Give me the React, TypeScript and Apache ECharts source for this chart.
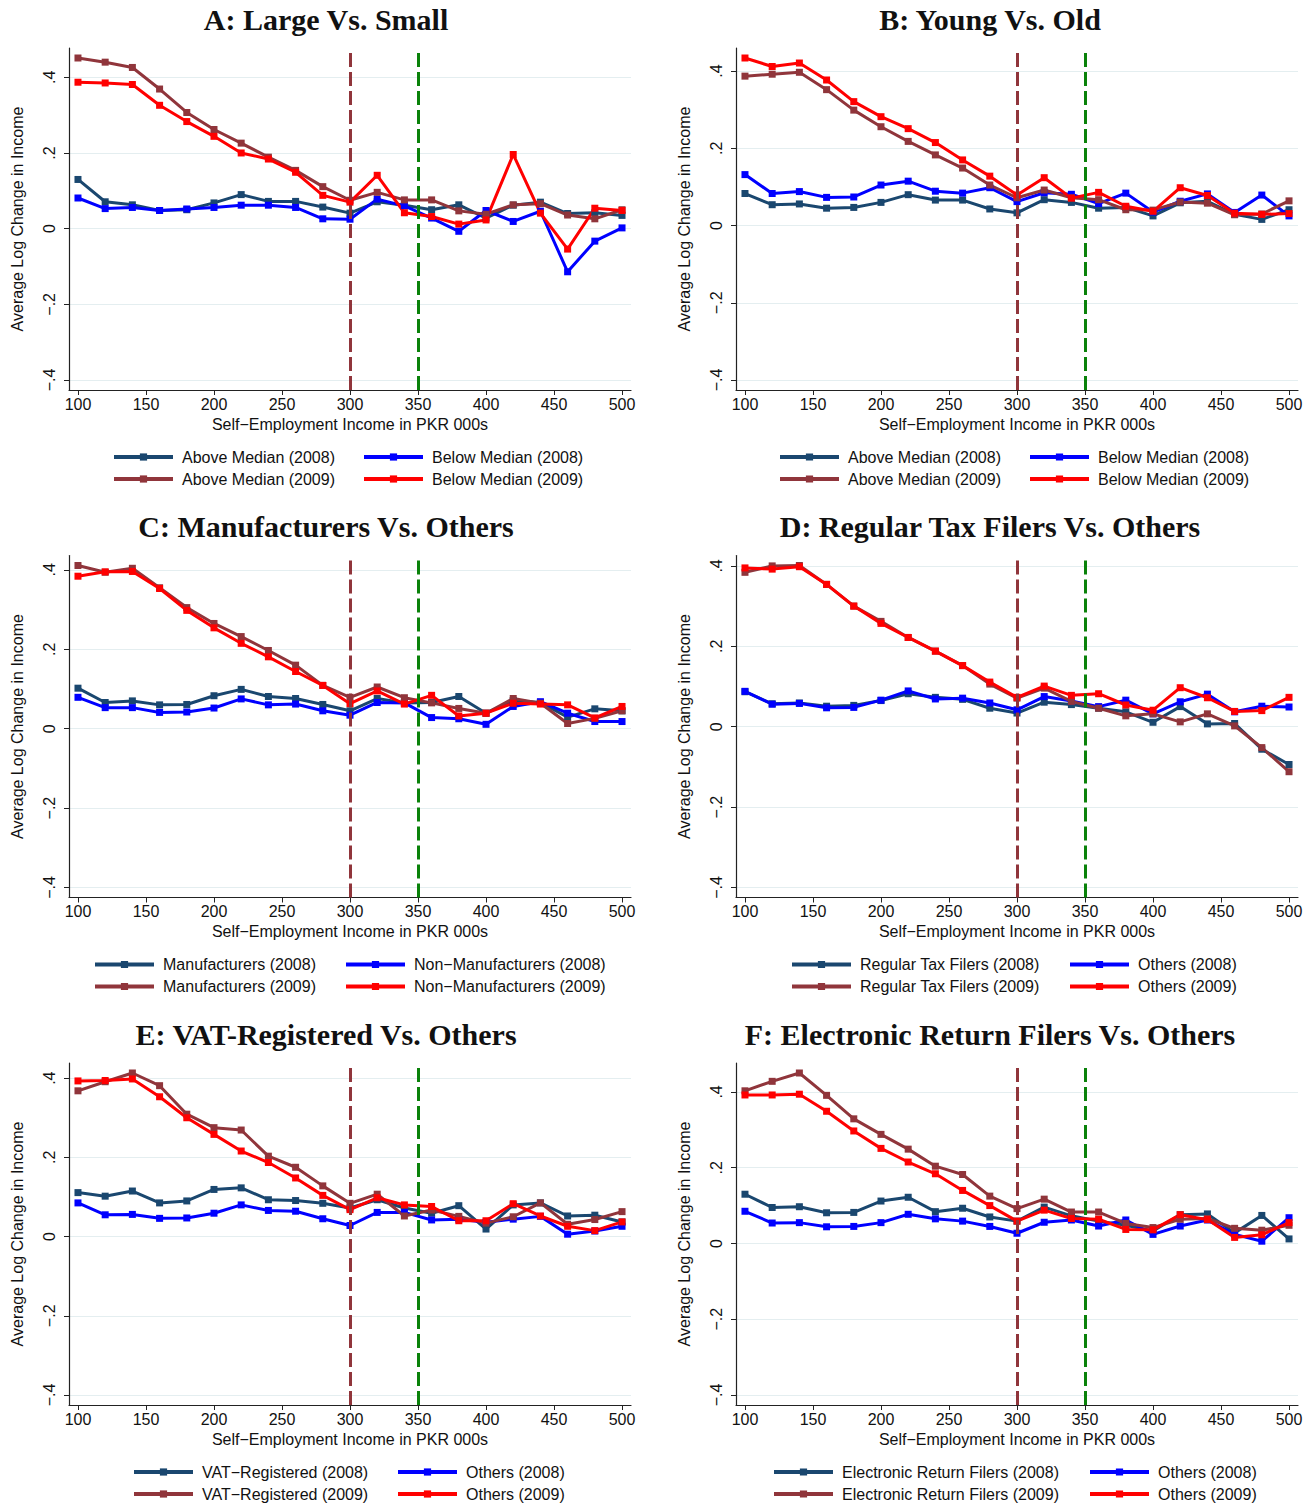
import React, { useEffect, useRef } from "react";
import * as echarts from "echarts";

// Income bins (PKR 000s) shared by every panel
const incomeBins = [100, 120, 140, 160, 180, 200, 220, 240, 260, 280, 300, 320, 340, 360, 380, 400, 420, 440, 460, 480, 500];
const xTickValues = [100, 150, 200, 250, 300, 350, 400, 450, 500];
const yTickValues = [-0.4, -0.2, 0, 0.2, 0.4];
const thresholdLow = 300;
const thresholdHigh = 350;

// A: Large vs. Small
const aAbove2008 = [0.130, 0.071, 0.063, 0.048, 0.050, 0.068, 0.090, 0.072, 0.072, 0.057, 0.041, 0.071, 0.062, 0.050, 0.063, 0.028, 0.062, 0.070, 0.040, 0.042, 0.035];
const aBelow2008 = [0.081, 0.053, 0.056, 0.048, 0.052, 0.056, 0.062, 0.062, 0.056, 0.026, 0.025, 0.078, 0.060, 0.028, -0.007, 0.048, 0.019, 0.046, -0.114, -0.033, 0.002];
const aAbove2009 = [0.451, 0.440, 0.426, 0.369, 0.307, 0.262, 0.226, 0.189, 0.154, 0.111, 0.075, 0.096, 0.076, 0.076, 0.047, 0.038, 0.063, 0.066, 0.036, 0.026, 0.050];
const aBelow2009 = [0.387, 0.385, 0.381, 0.326, 0.283, 0.244, 0.200, 0.184, 0.149, 0.088, 0.070, 0.141, 0.042, 0.032, 0.012, 0.023, 0.196, 0.041, -0.054, 0.054, 0.048];

// B: Young vs. Old
const bAbove2008 = [0.083, 0.054, 0.056, 0.045, 0.047, 0.060, 0.080, 0.066, 0.066, 0.043, 0.033, 0.067, 0.060, 0.045, 0.047, 0.025, 0.059, 0.063, 0.029, 0.016, 0.041];
const bBelow2008 = [0.132, 0.083, 0.088, 0.073, 0.074, 0.105, 0.115, 0.089, 0.084, 0.098, 0.062, 0.085, 0.081, 0.057, 0.084, 0.035, 0.063, 0.082, 0.034, 0.079, 0.025];
const bAbove2009 = [0.387, 0.392, 0.397, 0.352, 0.299, 0.256, 0.218, 0.183, 0.149, 0.105, 0.072, 0.092, 0.072, 0.067, 0.041, 0.040, 0.061, 0.058, 0.028, 0.030, 0.064];
const bBelow2009 = [0.434, 0.412, 0.421, 0.377, 0.321, 0.282, 0.251, 0.215, 0.170, 0.128, 0.079, 0.124, 0.071, 0.086, 0.050, 0.037, 0.098, 0.078, 0.032, 0.029, 0.031];

// C: Manufacturers vs. Others
const cManuf2008 = [0.102, 0.066, 0.070, 0.060, 0.061, 0.083, 0.099, 0.081, 0.076, 0.061, 0.045, 0.076, 0.065, 0.066, 0.081, 0.039, 0.071, 0.066, 0.029, 0.050, 0.045];
const cNonManuf2008 = [0.079, 0.053, 0.053, 0.041, 0.042, 0.052, 0.075, 0.060, 0.062, 0.045, 0.034, 0.066, 0.065, 0.028, 0.025, 0.011, 0.056, 0.068, 0.039, 0.018, 0.018];
const cManuf2009 = [0.411, 0.394, 0.404, 0.355, 0.305, 0.265, 0.232, 0.197, 0.160, 0.109, 0.079, 0.105, 0.078, 0.065, 0.051, 0.039, 0.076, 0.064, 0.013, 0.026, 0.045];
const cNonManuf2009 = [0.384, 0.395, 0.396, 0.353, 0.298, 0.254, 0.215, 0.181, 0.144, 0.109, 0.063, 0.095, 0.062, 0.084, 0.032, 0.039, 0.064, 0.062, 0.060, 0.027, 0.056];

// D: Regular Tax Filers vs. Others
const dRegular2008 = [0.087, 0.057, 0.059, 0.051, 0.053, 0.065, 0.082, 0.073, 0.068, 0.046, 0.034, 0.061, 0.055, 0.046, 0.037, 0.011, 0.050, 0.007, 0.008, -0.056, -0.094];
const dOthers2008 = [0.088, 0.056, 0.058, 0.047, 0.048, 0.066, 0.089, 0.069, 0.071, 0.059, 0.042, 0.075, 0.064, 0.050, 0.066, 0.032, 0.062, 0.081, 0.037, 0.051, 0.049];
const dRegular2009 = [0.384, 0.400, 0.401, 0.354, 0.300, 0.262, 0.222, 0.188, 0.152, 0.106, 0.071, 0.096, 0.063, 0.046, 0.027, 0.032, 0.012, 0.032, 0.002, -0.052, -0.112];
const dOthers2009 = [0.395, 0.392, 0.398, 0.354, 0.300, 0.257, 0.222, 0.188, 0.152, 0.111, 0.073, 0.101, 0.078, 0.082, 0.054, 0.041, 0.097, 0.072, 0.038, 0.040, 0.073];

// E: VAT-Registered vs. Others
const eVat2008 = [0.111, 0.102, 0.115, 0.085, 0.090, 0.119, 0.123, 0.093, 0.091, 0.084, 0.072, 0.093, 0.072, 0.059, 0.078, 0.019, 0.080, 0.085, 0.052, 0.054, 0.037];
const eOthers2008 = [0.085, 0.055, 0.056, 0.046, 0.047, 0.059, 0.080, 0.066, 0.064, 0.045, 0.028, 0.061, 0.061, 0.042, 0.044, 0.036, 0.044, 0.051, 0.006, 0.014, 0.026];
const eVat2009 = [0.368, 0.391, 0.413, 0.381, 0.309, 0.275, 0.269, 0.203, 0.175, 0.128, 0.084, 0.107, 0.052, 0.067, 0.051, 0.034, 0.050, 0.085, 0.031, 0.043, 0.063];
const eOthers2009 = [0.393, 0.394, 0.398, 0.353, 0.300, 0.258, 0.216, 0.187, 0.148, 0.104, 0.068, 0.098, 0.080, 0.076, 0.040, 0.040, 0.083, 0.052, 0.026, 0.015, 0.037];

// F: Electronic Return Filers vs. Others
const fElectronic2008 = [0.130, 0.095, 0.097, 0.081, 0.082, 0.112, 0.122, 0.084, 0.093, 0.070, 0.059, 0.096, 0.073, 0.059, 0.048, 0.033, 0.076, 0.078, 0.028, 0.074, 0.012];
const fOthers2008 = [0.085, 0.054, 0.055, 0.044, 0.045, 0.055, 0.077, 0.065, 0.059, 0.045, 0.027, 0.056, 0.062, 0.046, 0.062, 0.024, 0.046, 0.062, 0.024, 0.006, 0.068];
const fElectronic2009 = [0.403, 0.428, 0.450, 0.391, 0.329, 0.288, 0.249, 0.204, 0.182, 0.125, 0.092, 0.117, 0.083, 0.083, 0.053, 0.042, 0.064, 0.066, 0.040, 0.035, 0.048];
const fOthers2009 = [0.392, 0.392, 0.394, 0.349, 0.297, 0.251, 0.215, 0.184, 0.140, 0.100, 0.059, 0.088, 0.066, 0.064, 0.037, 0.036, 0.076, 0.063, 0.016, 0.023, 0.055];

const panelTitles = [
  "A: Large Vs. Small",
  "B: Young Vs. Old",
  "C: Manufacturers Vs. Others",
  "D: Regular Tax Filers Vs. Others",
  "E: VAT-Registered Vs. Others",
  "F: Electronic Return Filers Vs. Others",
];
const groupLabels = ["Above Median", "Above Median", "Manufacturers", "Regular Tax Filers", "VAT\u2212Registered", "Electronic Return Filers"];
const otherLabels = ["Below Median", "Below Median", "Non\u2212Manufacturers", "Others", "Others", "Others"];
const panelSeries = [
  [aAbove2008, aBelow2008, aAbove2009, aBelow2009],
  [bAbove2008, bBelow2008, bAbove2009, bBelow2009],
  [cManuf2008, cNonManuf2008, cManuf2009, cNonManuf2009],
  [dRegular2008, dOthers2008, dRegular2009, dOthers2009],
  [eVat2008, eOthers2008, eVat2009, eOthers2009],
  [fElectronic2008, fOthers2008, fElectronic2009, fOthers2009],
];

// Layout
const WIDTH = 1312;
const HEIGHT = 1507;
const COL_DX = 667;
const ROW_DY = 507.5;
const GRID_LEFT = 69;
const GRID_TOP = 48;
const GRID_W = 562;
const GRID_H = 342;
const TITLE_X = 326;
const COL_TITLE_DX = 664;
const TITLE_TOP = 4;
const LEGEND_ROW1_Y = 449;
const legendColumnX = [
  [113, 363],
  [779, 1029],
  [94, 345],
  [791, 1069],
  [133, 397],
  [773, 1089],
];

const SERIES_COLORS = ["#1a476f", "#0000ff", "#90353b", "#ff0000"];
const LOW_LINE_COLOR = "#90353b";
const HIGH_LINE_COLOR = "#0a820a";
const SANS = "'Liberation Sans', Arial, Helvetica, sans-serif";
const SERIF = "'Liberation Serif', 'Times New Roman', serif";

function formatYTick(v: number): string {
  if (Math.abs(v) < 1e-9) return "0";
  const s = Math.abs(v).toFixed(1).replace(/^0/, "");
  return (v < 0 ? "\u2212" : "") + s;
}

function buildOption() {
  const grid: any[] = [];
  const xAxis: any[] = [];
  const yAxis: any[] = [];
  const series: any[] = [];
  const title: any[] = [];
  const legend: any[] = [];

  panelSeries.forEach((group, i) => {
    const col = i % 2;
    const row = Math.floor(i / 2);
    const left = GRID_LEFT + COL_DX * col;
    const top = GRID_TOP + ROW_DY * row;
    grid.push({ left, top, width: GRID_W, height: GRID_H, containLabel: false });

    const allValues = group.flat();
    const dataMax = Math.max(0.4, ...allValues);
    const dataMin = Math.min(-0.4, ...allValues);
    const pad = ((dataMax - dataMin) * 10) / 322;

    xAxis.push({
      gridIndex: i,
      type: "value",
      min: 93.4,
      max: 506.6,
      name: "Self\u2212Employment Income in PKR 000s",
      nameLocation: "middle",
      nameGap: 26,
      nameTextStyle: { fontFamily: SANS, fontSize: 16, color: "#111" },
      axisLine: { show: true, onZero: false, lineStyle: { color: "#222", width: 1.2 } },
      axisTick: { show: true, length: 5, customValues: xTickValues, lineStyle: { color: "#222" } },
      axisLabel: { customValues: xTickValues, margin: 6, fontFamily: SANS, fontSize: 16, color: "#111" },
      splitLine: { show: false },
    });

    yAxis.push({
      gridIndex: i,
      type: "value",
      min: dataMin - pad,
      max: dataMax + pad,
      name: "Average Log Change in Income",
      nameLocation: "middle",
      nameGap: 44,
      nameTextStyle: { fontFamily: SANS, fontSize: 16, color: "#111" },
      axisLine: { show: true, lineStyle: { color: "#222", width: 1.2 } },
      axisTick: { show: true, length: 5, customValues: yTickValues, lineStyle: { color: "#222" } },
      axisLabel: {
        customValues: yTickValues,
        rotate: 90,
        margin: 12,
        fontFamily: SANS,
        fontSize: 16,
        color: "#111",
        formatter: formatYTick,
      },
      splitLine: { show: true, lineStyle: { color: "#e4eef0", width: 1.2 } },
    });

    const names = [
      `${groupLabels[i]} (2008)`,
      `${otherLabels[i]} (2008)`,
      `${groupLabels[i]} (2009)`,
      `${otherLabels[i]} (2009)`,
    ];

    group.forEach((values, k) => {
      const s: any = {
        type: "line",
        name: names[k],
        xAxisIndex: i,
        yAxisIndex: i,
        data: incomeBins.map((x, j) => [x, values[j]]),
        symbol: "rect",
        symbolSize: 7,
        showAllSymbol: true,
        lineStyle: { color: SERIES_COLORS[k], width: 3 },
        itemStyle: { color: SERIES_COLORS[k] },
        emphasis: { disabled: true },
      };
      if (k === 3) {
        s.markLine = {
          silent: true,
          symbol: "none",
          label: { show: false },
          data: [
            { xAxis: thresholdLow, lineStyle: { color: LOW_LINE_COLOR, width: 3, type: [14, 5] } },
            { xAxis: thresholdHigh, lineStyle: { color: HIGH_LINE_COLOR, width: 3, type: [14, 5] } },
          ],
        };
      }
      series.push(s);
    });

    title.push({
      text: panelTitles[i],
      left: TITLE_X + COL_TITLE_DX * col,
      top: TITLE_TOP + ROW_DY * row,
      padding: 0,
      textAlign: "center",
      textStyle: { fontFamily: SERIF, fontWeight: "bold", fontSize: 30, color: "#111" },
    });

    const legendTop = LEGEND_ROW1_Y + ROW_DY * row;
    [0, 1].forEach((c) => {
      legend.push({
        orient: "vertical",
        left: legendColumnX[i][c] - 1,
        top: legendTop,
        width: 320,
        height: 56,
        padding: 0,
        data: c === 0 ? [names[0], names[2]] : [names[1], names[3]],
        itemWidth: 59,
        itemHeight: 9,
        itemGap: 6,
        selectedMode: false,
        lineStyle: { width: 4 },
        textStyle: { fontFamily: SANS, fontSize: 16, color: "#111", padding: [0, 0, 0, 4] },
      });
    });
  });

  return {
    animation: false,
    backgroundColor: "#ffffff",
    title,
    legend,
    grid,
    xAxis,
    yAxis,
    series,
  };
}

export default function App() {
  const ref = useRef<HTMLDivElement>(null);
  useEffect(() => {
    if (!ref.current) return;
    const chart = echarts.init(ref.current, undefined, { renderer: "svg" });
    chart.setOption(buildOption() as any);
    return () => chart.dispose();
  }, []);
  return (
    <div
      ref={ref}
      style={{ position: "absolute", left: 0, top: 0, width: WIDTH, height: HEIGHT, background: "#fff" }}
    />
  );
}
